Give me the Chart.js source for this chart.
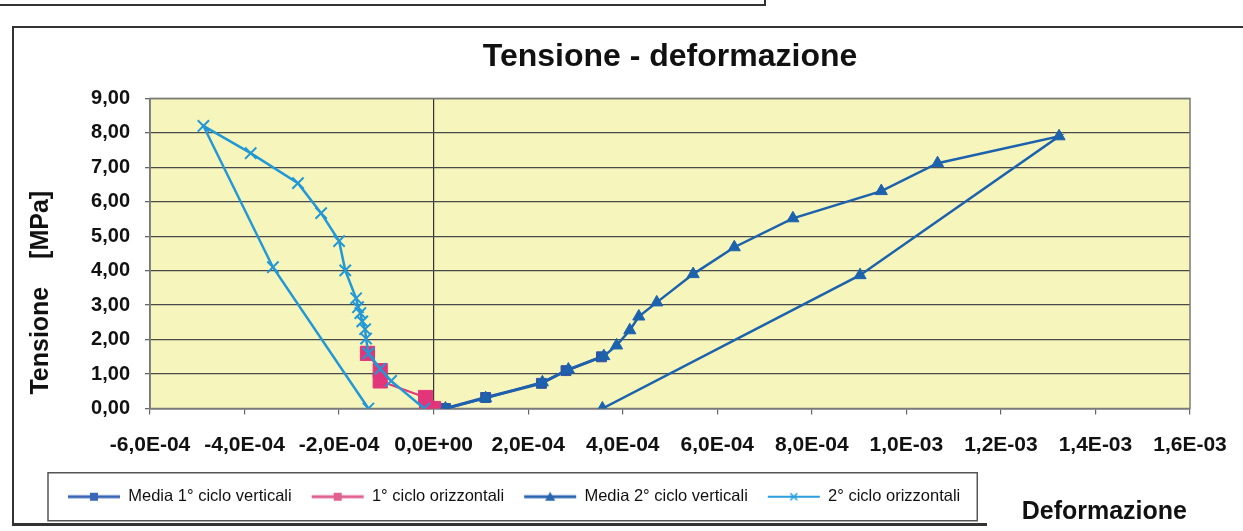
<!DOCTYPE html>
<html><head><meta charset="utf-8">
<script src="https://cdn.jsdelivr.net/npm/chart.js@4.4.1/dist/chart.umd.min.js"></script>
<style>
html,body{margin:0;padding:0;background:#fff;}
#wrap{position:relative;width:1243px;height:531px;overflow:hidden;background:#fff;}
#c{position:absolute;left:0;top:0;}
.fr{position:absolute;background:#333;}
</style></head><body>
<div id="wrap">
<div class="fr" style="left:0;top:4px;width:766px;height:2px"></div>
<div class="fr" style="left:764px;top:0;width:2px;height:6px"></div>
<div class="fr" style="left:12px;top:26px;width:1240px;height:2px"></div>
<div class="fr" style="left:12px;top:26px;width:2px;height:499px"></div>
<div class="fr" style="left:12px;top:523px;width:975px;height:3px"></div>
<canvas id="c" width="1243" height="531"></canvas>
</div>
<script>
// ---- data (strain, stress MPa) ----
const seriesNames = ['Media 1° ciclo verticali', '1° ciclo orizzontali', 'Media 2° ciclo verticali', '2° ciclo orizzontali'];

const media1X = [2.5e-5, 1.1e-4, 2.28e-4, 2.8e-4, 3.55e-4];
const media1Y = [0.00, 0.32, 0.73, 1.10, 1.50];

const oriz1X = [0, -1.5e-5, -1.7e-5, -1.13e-4, -1.13e-4, -1.4e-4];
const oriz1Y = [0.00, 0.02, 0.32, 0.80, 1.10, 1.60];

const media2X = [2.5e-5, 1.1e-4, 2.3e-4, 2.85e-4, 3.6e-4, 3.87e-4, 4.15e-4, 4.34e-4, 4.72e-4, 5.49e-4, 6.36e-4, 7.6e-4, 9.47e-4, 1.066e-3, 1.323e-3, 9.02e-4, 3.57e-4];
const media2Y = [0.00, 0.30, 0.76, 1.13, 1.52, 1.83, 2.27, 2.67, 3.08, 3.90, 4.68, 5.52, 6.31, 7.12, 7.90, 3.87, 0.00];

const oriz2X = [-2e-5, -0.9e-4, -1.13e-4, -1.38e-4, -1.43e-4, -1.45e-4, -1.51e-4, -1.55e-4, -1.6e-4, -1.64e-4, -1.87e-4, -2.0e-4, -2.38e-4, -2.87e-4, -3.87e-4, -4.87e-4, -3.4e-4, -1.38e-4];
const oriz2Y = [0.00, 0.80, 1.15, 1.60, 2.03, 2.30, 2.53, 2.77, 2.94, 3.20, 4.01, 4.86, 5.67, 6.54, 7.41, 8.20, 4.10, 0.00];

const xMin = -6e-4, xMax = 1.6e-3, xStep = 2e-4;
const yMin = 0, yMax = 9, yStep = 1;

const titleText = 'Tensione - deformazione';
const yTitle = '  Tensione    [MPa]';
const xTitle = 'Deformazione';

// ---- helpers ----
const FONT = 'Liberation Sans, Arial, sans-serif';
function pts(xs, ys){ return xs.map((x, i) => ({x: x, y: ys[i]})); }
function fmtE(v){
  if (Math.abs(v) < 1e-12) return '0,0E+00';
  const s = v.toExponential(1);
  const parts = s.split('e');
  const en = parseInt(parts[1], 10);
  return parts[0].replace('.', ',') + 'E' + (en < 0 ? '-' : '+') + String(Math.abs(en)).padStart(2, '0');
}
function legendIcon(color, style, lw){
  const c = document.createElement('canvas'); c.width = 54; c.height = 16;
  const g = c.getContext('2d');
  g.strokeStyle = color; g.lineWidth = lw;
  g.beginPath(); g.moveTo(1, 8); g.lineTo(53, 8); g.stroke();
  g.fillStyle = color;
  if (style === 'rect') { g.fillRect(23, 4, 8, 8); }
  else if (style === 'triangle') { g.beginPath(); g.moveTo(27, 3); g.lineTo(32, 12); g.lineTo(22, 12); g.closePath(); g.fill(); }
  else if (style === 'crossRot') { g.lineWidth = 1.6; g.beginPath(); g.moveTo(23.5, 4.5); g.lineTo(30.5, 11.5); g.moveTo(30.5, 4.5); g.lineTo(23.5, 11.5); g.stroke(); }
  return c;
}

const colors = ['#2d55a5', '#e2357a', '#1d62ad', '#2398d6'];
const styles = ['rect', 'rect', 'triangle', 'crossRot'];
const icons = [
  legendIcon('#3a66b8', 'rect', 3),
  legendIcon('#e0608f', 'rect', 3),
  legendIcon('#2a66b0', 'triangle', 3),
  legendIcon('#2a9ee0', 'crossRot', 2)
];

const deco = {
  id: 'deco',
  afterLayout(chart){ if (chart.legend) chart.legend.left = 48; },
  beforeDraw(chart){
    const {ctx, chartArea: a} = chart;
    ctx.save(); ctx.fillStyle = '#f5f5bc'; ctx.fillRect(a.left, a.top, a.width, a.height); ctx.restore();
  },
  beforeDatasetsDraw(chart){
    const {ctx, chartArea: a} = chart;
    ctx.save(); ctx.strokeStyle = '#7a7a7a'; ctx.lineWidth = 1.5;
    ctx.strokeRect(a.left, a.top, a.width, a.height); ctx.restore();
  },
  afterDraw(chart){
    const {ctx, chartArea: a} = chart;
    const hb = chart.legend.legendHitBoxes;
    if (hb && hb.length) {
      const first = hb[0], last = hb[hb.length - 1];
      const cy = first.top + first.height / 2;
      ctx.save();
      ctx.strokeStyle = '#555'; ctx.lineWidth = 1.5;
      ctx.strokeRect(first.left - 20, cy - 24, (last.left + last.width + 17) - (first.left - 20), 48);
      ctx.fillStyle = '#111';
      ctx.font = 'bold 25px ' + FONT;
      ctx.textAlign = 'right'; ctx.textBaseline = 'middle';
      ctx.fillText(xTitle, a.right - 3, cy + 15);
      ctx.restore();
    }
  }
};

const datasets = [
  {xs: media1X, ys: media1Y, r: 7, lw: 3, bw: 1},
  {xs: oriz1X, ys: oriz1Y, r: 10, lw: 2, bw: 1},
  {xs: media2X, ys: media2Y, r: 7, lw: 2.5, bw: 1},
  {xs: oriz2X, ys: oriz2Y, r: 8, lw: 2.5, bw: 2}
].map((d, i) => ({
  label: seriesNames[i],
  data: pts(d.xs, d.ys),
  showLine: true,
  borderColor: colors[i],
  backgroundColor: colors[i],
  borderWidth: d.lw,
  pointStyle: styles[i],
  pointRadius: d.r,
  pointBackgroundColor: colors[i],
  pointBorderColor: colors[i],
  pointBorderWidth: d.bw,
  tension: 0,
  order: 4 - i
}));

new Chart(document.getElementById('c'), {
  type: 'scatter',
  data: { datasets: datasets },
  plugins: [deco],
  options: {
    responsive: false,
    animation: false,
    devicePixelRatio: 1,
    layout: { padding: { left: 0, right: 53, top: 0, bottom: 16 } },
    plugins: {
      title: {
        display: true, text: titleText, fullSize: false,
        color: '#111', font: { family: FONT, size: 32, weight: 'bold' },
        padding: { top: 38, bottom: 22 }
      },
      legend: {
        position: 'bottom', align: 'start',
        labels: {
          usePointStyle: true, pointStyleWidth: 52, padding: 20,
          color: '#111', font: { family: FONT, size: 16.5 },
          generateLabels(chart){
            return chart.data.datasets.map((ds, i) => ({
              text: ds.label, pointStyle: icons[i], fillStyle: ds.borderColor,
              strokeStyle: ds.borderColor, lineWidth: 0, hidden: false, datasetIndex: i, fontColor: '#111'
            }));
          }
        }
      },
      tooltip: { enabled: false }
    },
    scales: {
      x: {
        type: 'linear', min: xMin, max: xMax,
        afterFit(s){ s.height = 60; },
        ticks: { stepSize: xStep, callback: v => fmtE(v), color: '#111', padding: 10, maxRotation: 0,
                 font: { family: FONT, size: 21, weight: 'bold', lineHeight: 2.0 } },
        grid: {
          color: c => (c.tick && Math.abs(c.tick.value) < 1e-12) ? '#333' : 'rgba(0,0,0,0)',
          lineWidth: 1.2, tickColor: '#666', tickLength: 6, drawTicks: true
        },
        border: { display: true, color: '#777', width: 1.5 }
      },
      y: {
        type: 'linear', min: yMin, max: yMax,
        afterFit(s){ s.width = 150; },
        ticks: { stepSize: yStep, callback: v => v.toFixed(2).replace('.', ','), color: '#111', padding: 15,
                 font: { family: FONT, size: 20, weight: 'bold' } },
        grid: { color: '#4a4a4a', lineWidth: 1.3, tickColor: '#666', tickLength: 5 },
        border: { display: true, color: '#777', width: 1.5 },
        title: { display: true, text: yTitle, align: 'start', color: '#111',
                 font: { family: FONT, size: 25, weight: 'bold' }, padding: { top: 26, bottom: 0 } }
      }
    }
  }
});
</script>
</body></html>
